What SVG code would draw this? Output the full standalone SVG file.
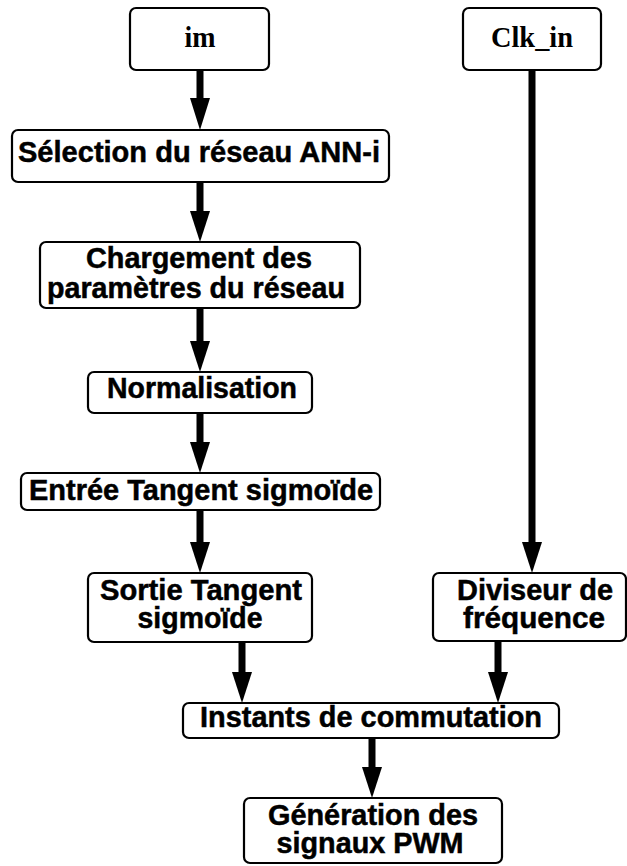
<svg xmlns="http://www.w3.org/2000/svg" width="627" height="866" viewBox="0 0 627 866">
  <style>
    .box { fill: #ffffff; stroke: #000000; stroke-width: 2.2; }
    .lbl { font-family: "Liberation Sans", Arial, sans-serif; font-weight: bold; font-size: 29px; fill: #000000; stroke: #000000; stroke-width: 0.5; text-anchor: middle; }
    .sig { font-family: "Liberation Serif", "Times New Roman", serif; font-weight: bold; font-size: 28.5px; fill: #000000; text-anchor: middle; }
    .shaft { stroke: #000000; stroke-width: 7; fill: none; }
    .head { fill: #000000; }
  </style>
  <rect width="627" height="866" fill="#ffffff"/>

  <!-- connectors: thick shafts with solid triangular heads -->
  <g id="connectors">
    <line class="shaft" x1="200" y1="70" x2="200" y2="100"/>
    <polygon class="head" points="190,98 210,98 200,130"/>

    <line class="shaft" x1="200" y1="182" x2="200" y2="213"/>
    <polygon class="head" points="190,211 210,211 200,242"/>

    <line class="shaft" x1="200" y1="308" x2="200" y2="343"/>
    <polygon class="head" points="190,341 210,341 200,372"/>

    <line class="shaft" x1="200" y1="413" x2="200" y2="444"/>
    <polygon class="head" points="190,442 210,442 200,473"/>

    <line class="shaft" x1="200" y1="510" x2="200" y2="544" stroke-linecap="round"/>
    <polygon class="head" points="190,542 210,542 200,573"/>

    <line class="shaft" x1="532" y1="70" x2="532" y2="544"/>
    <polygon class="head" points="522,542 542,542 532,573"/>

    <line class="shaft" x1="242" y1="642" x2="242" y2="674"/>
    <polygon class="head" points="232,672 252,672 242,703"/>

    <line class="shaft" x1="498" y1="641" x2="498" y2="674"/>
    <polygon class="head" points="488,672 508,672 498,703"/>

    <line class="shaft" x1="372" y1="738" x2="372" y2="769"/>
    <polygon class="head" points="362,767 382,767 372,798"/>
  </g>

  <g id="node-im">
    <rect class="box" x="130" y="8" width="139" height="62" rx="6"/>
    <text class="sig" x="200" y="47" textLength="31" lengthAdjust="spacingAndGlyphs">im</text>
  </g>

  <g id="node-clk">
    <rect class="box" x="463" y="8" width="138" height="62" rx="6"/>
    <text class="sig" x="532" y="47" textLength="82" lengthAdjust="spacingAndGlyphs">Clk_in</text>
  </g>

  <g id="node-selection">
    <rect class="box" x="12" y="130" width="377" height="52" rx="6"/>
    <text class="lbl" x="199" y="162" textLength="362" lengthAdjust="spacingAndGlyphs">Sélection du réseau ANN-i</text>
  </g>

  <g id="node-chargement">
    <rect class="box" x="40" y="242" width="320" height="66" rx="6"/>
    <text class="lbl" x="199" y="268" textLength="226" lengthAdjust="spacingAndGlyphs">Chargement des</text>
    <text class="lbl" x="196" y="298" textLength="298" lengthAdjust="spacingAndGlyphs">paramètres du réseau</text>
  </g>

  <g id="node-normalisation">
    <rect class="box" x="88" y="372" width="224" height="41" rx="6"/>
    <text class="lbl" x="202" y="398" textLength="190" lengthAdjust="spacingAndGlyphs">Normalisation</text>
  </g>

  <g id="node-entree">
    <rect class="box" x="21" y="473" width="359" height="37" rx="6"/>
    <text class="lbl" x="201" y="500" textLength="344" lengthAdjust="spacingAndGlyphs">Entrée Tangent sigmoïde</text>
  </g>

  <g id="node-sortie">
    <rect class="box" x="88" y="573" width="224" height="69" rx="6"/>
    <text class="lbl" x="201" y="600" textLength="202" lengthAdjust="spacingAndGlyphs">Sortie Tangent</text>
    <text class="lbl" x="200" y="628" textLength="125" lengthAdjust="spacingAndGlyphs">sigmoïde</text>
  </g>

  <g id="node-diviseur">
    <rect class="box" x="433" y="573" width="193" height="68" rx="6"/>
    <text class="lbl" x="535" y="600" textLength="156" lengthAdjust="spacingAndGlyphs">Diviseur de</text>
    <text class="lbl" x="534" y="628" textLength="142" lengthAdjust="spacingAndGlyphs">fréquence</text>
  </g>

  <g id="node-instants">
    <rect class="box" x="183" y="703" width="376" height="35" rx="6"/>
    <text class="lbl" x="371" y="727" textLength="342" lengthAdjust="spacingAndGlyphs">Instants de commutation</text>
  </g>

  <g id="node-generation">
    <rect class="box" x="244" y="798" width="258" height="65" rx="6"/>
    <text class="lbl" x="373" y="825" textLength="210" lengthAdjust="spacingAndGlyphs">Génération des</text>
    <text class="lbl" x="370" y="853" textLength="187" lengthAdjust="spacingAndGlyphs">signaux PWM</text>
  </g>
</svg>
